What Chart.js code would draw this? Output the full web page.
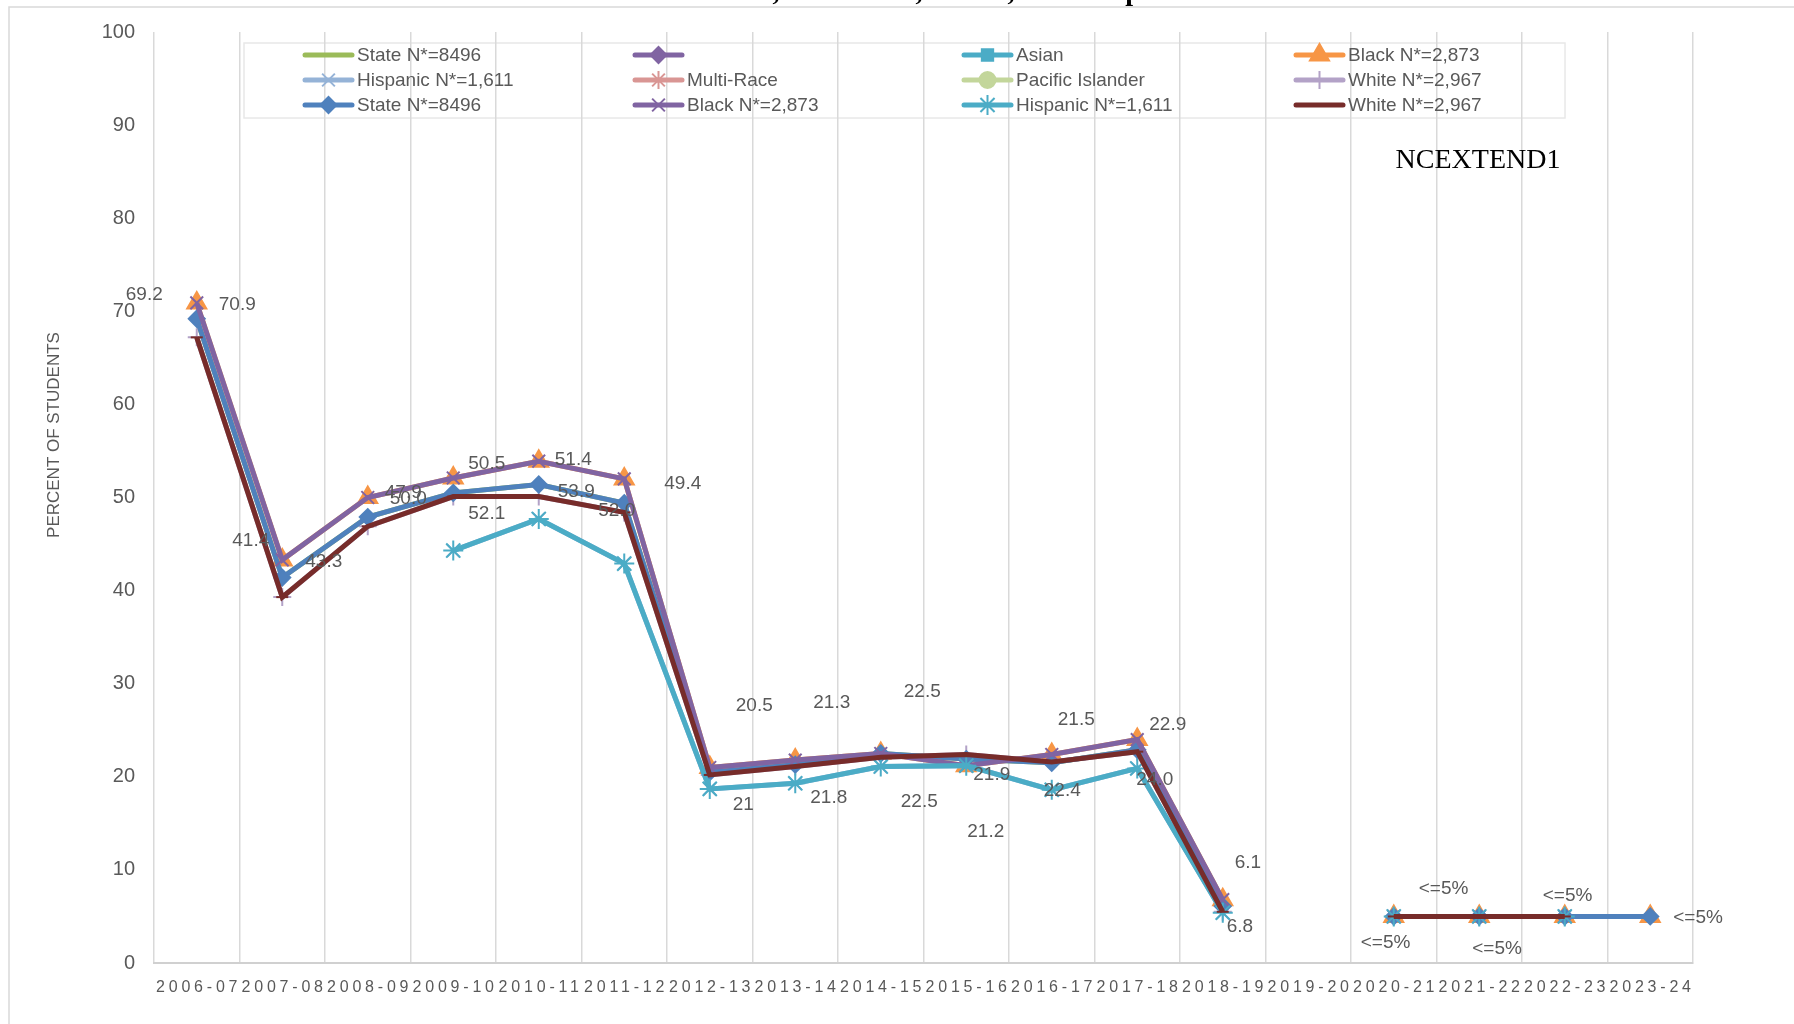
<!DOCTYPE html>
<html>
<head>
<meta charset="utf-8">
<title>NCEXTEND1</title>
<script src="https://cdn.jsdelivr.net/npm/chart.js@4.4.1/dist/chart.umd.min.js"></script>
<style>
  html, body { margin: 0; padding: 0; background: #fff; }
  #wrap { width: 1794px; height: 1024px; }
</style>
</head>
<body>
<div id="wrap"><canvas id="trend" width="1794" height="1024"></canvas></div>
<script>
// school years on the category axis
var years = ['2006-07', '2007-08', '2008-09', '2009-10', '2010-11', '2011-12', '2012-13',
             '2013-14', '2014-15', '2015-16', '2016-17', '2017-18', '2018-19', '2019-20',
             '2020-21', '2021-22', '2022-23', '2023-24'];

var yTicks = [0, 10, 20, 30, 40, 50, 60, 70, 80, 90, 100];

// printed data labels; the plotted values are parsed from these
var stateText = ['69.2', '41.4', '47.9', '50.5', '51.4', '49.4', '20.5', '21.3', '22.5', '21.9',
                 '21.5', '22.9', '6.1', null, '<=5%', '<=5%', '<=5%', '<=5%'];
var blackText = ['70.9', '43.3', '50.0', '52.1', '53.9', '52.0', '21', '21.8', '22.5', '21.2',
                 '22.4', '24.0', '6.8', null, '<=5%', '<=5%', '<=5%', null];

// first Black series also has the last year
var blackAllYears = [70.9, 43.3, 50.0, 52.1, 53.9, 52.0, 21, 21.8, 22.5, 21.2,
                     22.4, 24.0, 6.8, null, 5, 5, 5, 5];
var hispanicValues = [null, null, null, 44.3, 47.7, 42.9, 18.7, 19.3, 21.1, 21.2,
                      18.6, 20.9, 5.4, null, 5, 5, 5, null];
var whiteValues = [67.2, 39.3, 46.9, 50.1, 50.1, 48.4, 20.2, 21.1, 22.1, 22.4,
                   21.6, 22.7, 5.5, null, 5, 5, 5, null];
var emptyValues = [];

// where each label sits relative to its point (left edge, middle)
var stateShift = [[-71, -24], [-50, -37], [17, -24], [15, -29], [16, -25], [40, -19], [26, -66],
                  [18, -62], [23, -62], [7, 16], [6, -43], [12, -25], [12, -43], null,
                  [25, -28], [-7, 32], [-22, -21], [23, 1]];
var blackShift = [[22, 2], [23, 2], [22, 1], [15, 36], [19, 31], [-26, 32], [23, 37],
                  [15, 38], [20, 48], [1, 66], [-8, 36], [-1, 40], [4, 27], null,
                  [-33, 26], null, null, null];

function parseLabel(t) {
    if (t === null) return null;
    if (t === '<=5%') return 5;
    return parseFloat(t);
}

var stateValues = stateText.map(parseLabel);
var blackValues = blackText.map(parseLabel);

var FONT = '"Liberation Sans", Arial, sans-serif';
var GREY = '#595959';

function series(label, data, color, style, radius, fill) {
    return {
        label: label,
        data: data,
        borderColor: color,
        backgroundColor: fill || color,
        borderWidth: 5,
        pointStyle: style || false,
        pointRadius: style ? radius : 0,
        pointHoverRadius: style ? radius : 0,
        pointBorderColor: color,
        pointBackgroundColor: fill || color,
        pointBorderWidth: 2,
        tension: 0,
        spanGaps: false
    };
}

var datasets = [
    series('State N*=8496', stateValues, '#9BBB59', null, 0),
    series('', emptyValues, '#8064A2', 'rectRot', 8),
    series('Asian', emptyValues, '#4BACC6', 'rect', 8),
    series('Black N*=2,873', blackAllYears, '#F79646', 'triangle', 11),
    series('Hispanic N*=1,611', hispanicValues, '#95B3D7', 'crossRot', 9),
    series('Multi-Race', emptyValues, '#D99694', 'star', 9),
    series('Pacific Islander', emptyValues, '#C3D69B', 'circle', 8),
    series('White N*=2,967', whiteValues, '#B3A2C7', 'cross', 9),
    series('State N*=8496', stateValues, '#4F81BD', 'rectRot', 8),
    series('Black N*=2,873', blackValues, '#8064A2', 'crossRot', 9),
    series('Hispanic N*=1,611', hispanicValues, '#4BACC6', 'star', 10),
    series('White N*=2,967', whiteValues, '#772C2A', 'line', 6)
];
// later series are painted over earlier ones
datasets.forEach(function(ds, i) { ds.order = datasets.length - i; });

var labelled = [
    { index: 8, text: stateText, shift: stateShift },
    { index: 9, text: blackText, shift: blackShift }
];

function drawMarker(ctx, ds, x, y) {
    if (!ds.pointStyle) return;
    ctx.fillStyle = ds.pointBackgroundColor;
    ctx.strokeStyle = ds.pointBorderColor;
    ctx.lineWidth = ds.pointBorderWidth;
    Chart.helpers.drawPoint(ctx, {
        pointStyle: ds.pointStyle,
        radius: ds.pointRadius,
        borderWidth: ds.pointBorderWidth,
        rotation: 0
    }, x, y);
}

var chartDecor = {
    id: 'chartDecor',
    beforeDraw: function(chart) {
        var ctx = chart.ctx;
        ctx.save();
        ctx.fillStyle = '#ffffff';
        ctx.fillRect(0, 0, chart.width, chart.height);
        // outer frame, top and left edges
        ctx.strokeStyle = '#d9d9d9';
        ctx.lineWidth = 1.5;
        ctx.beginPath();
        ctx.moveTo(9, chart.height);
        ctx.lineTo(9, 7);
        ctx.lineTo(chart.width, 7);
        ctx.stroke();
        // legend box
        ctx.strokeStyle = '#e8e8e8';
        ctx.strokeRect(244, 43, 1321, 75);
        ctx.restore();
    },
    afterDatasetsDraw: function(chart) {
        var ctx = chart.ctx;
        ctx.save();
        ctx.font = '19px ' + FONT;
        ctx.fillStyle = GREY;
        ctx.textAlign = 'left';
        ctx.textBaseline = 'middle';
        labelled.forEach(function(l) {
            var pts = chart.getDatasetMeta(l.index).data;
            l.text.forEach(function(t, i) {
                if (t === null || !l.shift[i] || !pts[i] || pts[i].skip) return;
                ctx.fillText(t, pts[i].x + l.shift[i][0], pts[i].y + l.shift[i][1]);
            });
        });
        ctx.restore();
    },
    afterDraw: function(chart) {
        var ctx = chart.ctx;
        var xs = chart.scales.x;
        ctx.save();

        // category labels, spaced out across each column
        ctx.font = '16px ' + FONT;
        ctx.fillStyle = GREY;
        ctx.textAlign = 'center';
        ctx.textBaseline = 'middle';
        ctx.letterSpacing = '3.8px';
        years.forEach(function(y, i) {
            ctx.fillText(y, xs.getPixelForValue(i) + 1.9, 988);
        });
        ctx.letterSpacing = '0px';

        // value axis title
        ctx.save();
        ctx.translate(54, 435);
        ctx.rotate(-Math.PI / 2);
        ctx.font = '17px ' + FONT;
        ctx.fillText('PERCENT OF STUDENTS', 0, 0);
        ctx.restore();

        // test name
        ctx.fillStyle = '#000000';
        ctx.font = '28px "Liberation Serif", "Times New Roman", serif';
        ctx.fillText('NCEXTEND1', 1478, 161);

        // bottom edge of the heading above the frame
        ctx.font = 'bold 28px "Liberation Serif", "Times New Roman", serif';
        ctx.textBaseline = 'alphabetic';
        ctx.fillText(',', 776, 0);
        ctx.fillText(',', 919, 0);
        ctx.fillText(',', 1011, 0);
        ctx.fillText('p', 1133, 0);

        // legend entries, four per row
        var colLine = [305, 635, 964, 1296];
        var rowY = [55, 80, 105];
        ctx.font = '19px ' + FONT;
        ctx.textAlign = 'left';
        ctx.textBaseline = 'middle';
        chart.data.datasets.forEach(function(ds, i) {
            var x = colLine[i % 4];
            var y = rowY[Math.floor(i / 4)];
            ctx.strokeStyle = ds.borderColor;
            ctx.lineWidth = 5;
            ctx.lineCap = 'round';
            ctx.beginPath();
            ctx.moveTo(x, y);
            ctx.lineTo(x + 47, y);
            ctx.stroke();
            ctx.lineCap = 'butt';
            drawMarker(ctx, ds, x + 23.5, y);
            ctx.fillStyle = GREY;
            ctx.fillText(ds.label, x + 52, y + 1);
        });
        ctx.restore();
    }
};

document.addEventListener('DOMContentLoaded', function() {
    var ctx = document.getElementById('trend').getContext('2d');
    new Chart(ctx, {
        type: 'line',
        data: { labels: years, datasets: datasets },
        options: {
            responsive: false,
            animation: false,
            devicePixelRatio: 1,
            layout: { padding: { left: 0, top: 32, right: 101, bottom: 0 } },
            plugins: {
                legend: { display: false },
                title: { display: false },
                tooltip: { enabled: false }
            },
            scales: {
                x: {
                    type: 'category',
                    offset: true,
                    grid: { offset: true, color: '#d9d9d9', lineWidth: 1.5, drawTicks: false },
                    border: { display: true, color: '#d0d0d0', width: 2 },
                    ticks: { display: false },
                    afterFit: function(scale) { scale.height = 61; }
                },
                y: {
                    min: 0,
                    max: 100,
                    grid: { display: false, drawTicks: false },
                    border: { display: false },
                    afterBuildTicks: function(scale) {
                        scale.ticks = yTicks.map(function(v) { return { value: v }; });
                    },
                    ticks: {
                        color: GREY,
                        font: { family: FONT, size: 20 },
                        padding: 19
                    },
                    afterFit: function(scale) { scale.width = 154; }
                }
            }
        },
        plugins: [chartDecor]
    });
});
</script>
</body>
</html>
